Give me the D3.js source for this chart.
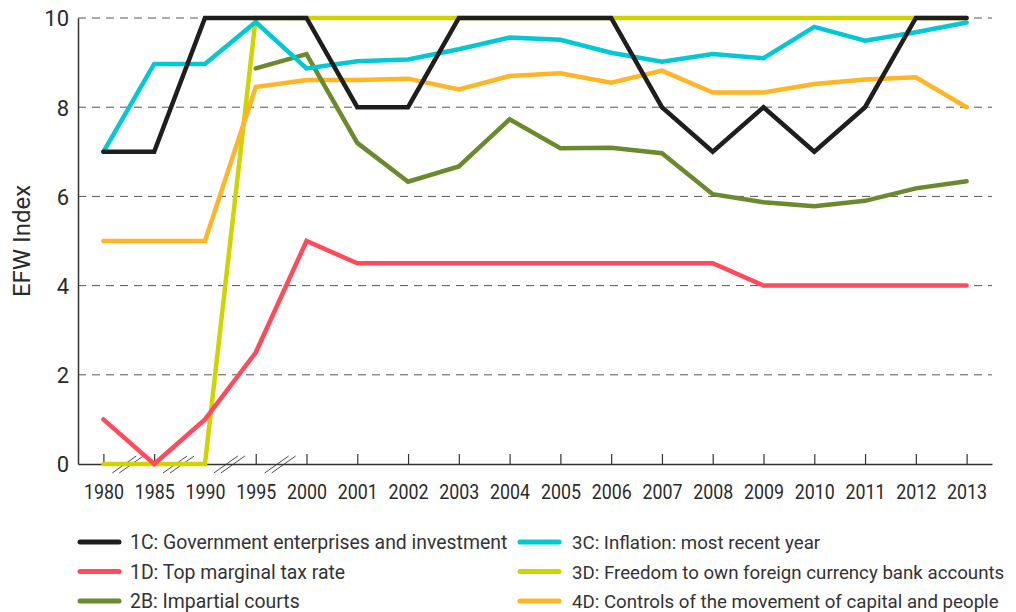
<html>
  <head>
    <script src="https://d3js.org/d3.v7.min.js"></script>
    <style>
      body { margin: 0; background: #fff; }
    </style>
  </head>
  <body>
    <div id="vis"></div>
  </body>
  <script>
    // Years on the x axis (first four gaps are 5-year jumps, marked with breaks)
    var years = ["1980", "1985", "1990", "1995", "2000", "2001", "2002", "2003", "2004",
                 "2005", "2006", "2007", "2008", "2009", "2010", "2011", "2012", "2013"]

    var yTicks = [0, 2, 4, 6, 8, 10]

    // EFW components
    var govEnterprises = [7, 7, 10, 10, 10, 8, 8, 10, 10, 10, 10, 8, 7, 8, 7, 8, 10, 10]
    var topTaxRate     = [1, 0, 1, 2.5, 5, 4.5, 4.5, 4.5, 4.5, 4.5, 4.5, 4.5, 4.5, 4, 4, 4, 4, 4]
    var courts         = [null, null, null, 8.87, 9.19, 7.2, 6.33, 6.67, 7.73, 7.08, 7.09, 6.97, 6.05, 5.87, 5.78, 5.9, 6.18, 6.34]
    var inflation      = [7, 8.97, 8.97, 9.91, 8.87, 9.03, 9.07, 9.3, 9.56, 9.51, 9.22, 9.02, 9.19, 9.1, 9.8, 9.49, 9.68, 9.9]
    var foreignCurrency = [0, 0, 0, 10, 10, 10, 10, 10, 10, 10, 10, 10, 10, 10, 10, 10, 10, 10]
    var capitalControls = [5, 5, 5, 8.45, 8.61, 8.61, 8.64, 8.4, 8.7, 8.76, 8.55, 8.82, 8.33, 8.33, 8.52, 8.62, 8.67, 8.0]

    var seriesNames = ["1C: Government enterprises and investment", "1D: Top marginal tax rate",
                       "2B: Impartial courts", "3C: Inflation: most recent year",
                       "3D: Freedom to own foreign currency bank accounts",
                       "4D: Controls of the movement of capital and people"]
    var seriesValues = [govEnterprises, topTaxRate, courts, inflation, foreignCurrency, capitalControls]
    var seriesColors = ["#1e1e1c", "#ff4b5c", "#6a8a2d", "#00c9d4", "#cfd400", "#ffb526"]

    // order the lines are painted in (black ends up on top)
    var drawOrder = [4, 5, 2, 1, 3, 0]

    var W = 1016, H = 612
    var plotLeft = 78, plotRight = 992, plotTop = 18, plotBottom = 464

    var svg = d3.select("#vis")
      .append("svg")
      .attr("width", W)
      .attr("height", H)

    var x = d3.scalePoint()
      .domain(years)
      .range([plotLeft, plotRight])
      .padding(0.5)

    var y = d3.scaleLinear()
      .domain([0, 10])
      .range([plotBottom, plotTop])

    // dashed gridlines
    svg.append("g")
      .selectAll("line")
      .data(yTicks.filter(d => d > 0))
      .join("line")
      .attr("x1", plotLeft)
      .attr("x2", plotRight)
      .attr("y1", d => y(d))
      .attr("y2", d => y(d))
      .attr("stroke", "#555")
      .attr("stroke-width", 1)
      .attr("stroke-dasharray", "8,6")

    // y axis
    var yAxis = svg.append("g")
      .attr("transform", "translate(" + plotLeft + ",0)")
      .call(d3.axisLeft(y).tickValues(yTicks).tickSize(0).tickPadding(9))
    yAxis.select(".domain").attr("stroke", "#333").attr("stroke-width", 1.5)
    yAxis.selectAll("text")
      .attr("font-family", "Roboto, sans-serif")
      .attr("font-size", 22)
      .attr("fill", "#2a2a2a")
      .attr("dy", "0.36em")

    // x axis, ticks point up into the plot
    var xAxis = svg.append("g")
      .attr("transform", "translate(0," + plotBottom + ")")
      .call(d3.axisBottom(x).tickSizeInner(-10).tickSizeOuter(0).tickPadding(0))
    xAxis.select(".domain").attr("stroke", "#333").attr("stroke-width", 1.5)
    xAxis.selectAll(".tick line").attr("stroke", "#333").attr("stroke-width", 1.2)
    xAxis.selectAll("text")
      .attr("font-family", "Roboto, sans-serif")
      .attr("font-size", 20)
      .attr("fill", "#2a2a2a")
      .attr("y", 35)
      .attr("dy", 0)
      .attr("textLength", 40)
      .attr("lengthAdjust", "spacingAndGlyphs")

    // axis breaks between the 5-year steps
    var breaks = years.slice(0, 4).map((d, i) => (x(d) + x(years[i + 1])) / 2)
    breaks.forEach(cx => {
      [-3.5, 3.5].forEach(off => {
        svg.append("line")
          .attr("x1", cx + off - 13)
          .attr("y1", plotBottom + 9)
          .attr("x2", cx + off + 11)
          .attr("y2", plotBottom - 8)
          .attr("stroke", "#333")
          .attr("stroke-width", 0.9)
      })
    })

    // y title
    svg.append("text")
      .text("EFW Index")
      .attr("transform", "translate(30,241) rotate(-90)")
      .attr("text-anchor", "middle")
      .attr("font-family", "Roboto, sans-serif")
      .attr("font-size", 24)
      .attr("fill", "#2a2a2a")

    // lines
    var line = d3.line()
      .defined(d => d.v !== null)
      .x(d => x(d.year))
      .y(d => y(d.v))

    drawOrder.forEach(i => {
      var pts = years.map((yr, j) => ({year: yr, v: seriesValues[i][j]}))
      svg.append("path")
        .datum(pts)
        .attr("fill", "none")
        .attr("stroke", seriesColors[i])
        .attr("stroke-width", 4.5)
        .attr("stroke-linecap", "round")
        .attr("stroke-linejoin", "miter")
        .attr("d", line)
    })

    // legend: two columns, three rows
    var legend = svg.append("g")
    seriesNames.forEach((name, i) => {
      var col = i < 3 ? 0 : 1
      var row = i % 3
      var lx = col === 0 ? 80 : 520
      var ly = 542 + row * 29.5
      legend.append("line")
        .attr("x1", lx)
        .attr("x2", lx + 39)
        .attr("y1", ly)
        .attr("y2", ly)
        .attr("stroke", seriesColors[i])
        .attr("stroke-width", 5)
        .attr("stroke-linecap", "round")
      legend.append("text")
        .text(name)
        .attr("x", lx + (col === 0 ? 50 : 52))
        .attr("y", ly + 7)
        .attr("font-family", "Roboto, sans-serif")
        .attr("font-size", col === 0 ? 19.4 : 18.7)
        .attr("fill", "#333")
    })
  </script>
</html>
